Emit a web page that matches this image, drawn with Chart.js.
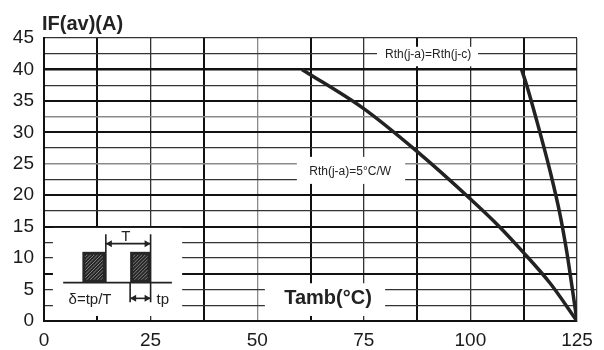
<!DOCTYPE html>
<html>
<head>
<meta charset="utf-8">
<script src="https://cdn.jsdelivr.net/npm/chart.js@4/dist/chart.umd.min.js"></script>
<style>
  body { margin: 0; background: #fff; }
  #wrap { width: 604px; height: 350px; }
</style>
</head>
<body>
<div id="wrap"><canvas id="derating"></canvas></div>
<script>
// curve: Rth(j-a)=Rth(j-c)
var tambCase = [112, 113.2, 115.5, 118.7, 121, 122.6, 123.8, 125];
var ifCase = [40, 37.5, 32.0, 23.8, 17.0, 11.0, 5.6, 0];
// curve for Rth(j-a)=5 C/W
var tambAmb = [60.5, 74.9, 87.4, 100, 106.8, 112.3, 118.7, 125];
var ifAmb = [40, 33.8, 27.0, 19.4, 15, 11, 6, 0];

var xTicks = [0, 25, 50, 75, 100, 125];
var yTicks = [0, 5, 10, 15, 20, 25, 30, 35, 40, 45];

var FONT = "'Liberation Sans', Arial, sans-serif";

function toPoints(xs, ys) {
  var pts = [];
  for (let i = 0; i < xs.length; i++) pts.push({ x: xs[i], y: ys[i] });
  return pts;
}

// grid styling per line
function xGridWidth(ctx) {
  var v = ctx.tick ? ctx.tick.value : 0;
  return (v % 25 === 0) ? 1.3 : 2;
}
function xGridColor(ctx) {
  var v = ctx.tick ? ctx.tick.value : 0;
  if (v === 50) return "#8a8a8a";
  return (v % 25 === 0) ? "#333" : "#111";
}
var thickY = [40, 35, 30, 20, 15, 7.5];
var greyY = [32.5, 25];
function yGridWidth(ctx) {
  var v = ctx.tick ? ctx.tick.value : 0;
  if (v === 40) return 2.4;
  if (thickY.indexOf(v) >= 0) return 2;
  if (greyY.indexOf(v) >= 0) return 1.5;
  return 1.3;
}
function yGridColor(ctx) {
  var v = ctx.tick ? ctx.tick.value : 0;
  if (greyY.indexOf(v) >= 0) return "#8a8a8a";
  return thickY.indexOf(v) >= 0 ? "#111" : "#333";
}

// white label boxes, in axis units: [x1, x2, y1, y2]
var boxes = [
  [78.1, 101.8, 40.5, 43.6],
  [59.3, 84.7, 21.8, 26.1],
  [51.8, 80, 0.8, 6.0],
  [2.1, 32.4, 0.8, 14.8]
];

var labelsPlugin = {
  id: "labels",
  beforeDatasetsDraw(chart) {
    var c = chart.ctx;
    var sx = chart.scales.x, sy = chart.scales.y;
    var X = v => sx.getPixelForValue(v);
    var Y = v => sy.getPixelForValue(v);
    c.save();
    c.fillStyle = "#fff";
    boxes.forEach(b => {
      c.fillRect(X(b[0]), Y(b[3]), X(b[1]) - X(b[0]), Y(b[2]) - Y(b[3]));
    });

    c.fillStyle = "#222";
    c.textBaseline = "middle";
    c.textAlign = "center";
    c.font = "12px " + FONT;
    c.fillText("Rth(j-a)=Rth(j-c)", X(90.1), Y(42.4));
    c.fillText("Rth(j-a)=5\u00B0C/W", X(71.8), Y(23.7));
    c.font = "bold 20px " + FONT;
    c.fillText("Tamb(\u00B0C)", X(66.6), Y(3.6));

    // duty cycle sketch
    c.strokeStyle = "#222";
    c.lineWidth = 1.6;
    c.beginPath();
    c.moveTo(X(4.5), Y(6.1));
    c.lineTo(X(30), Y(6.1));
    c.stroke();
    [[9.0, 14.5], [20.2, 25.0]].forEach(p => {
      var x1 = X(p[0]), x2 = X(p[1]), y1 = Y(11), y2 = Y(6.1);
      c.fillStyle = "#262626";
      c.fillRect(x1, y1, x2 - x1, y2 - y1);
      c.save();
      c.beginPath();
      c.rect(x1 + 3, y1 + 3, x2 - x1 - 6, y2 - y1 - 6);
      c.clip();
      c.strokeStyle = "#9a9a9a";
      c.lineWidth = 0.8;
      for (let k = -30; k < 40; k += 3.5) {
        c.beginPath();
        c.moveTo(x1 + k, y2);
        c.lineTo(x1 + k + 30, y2 - 30);
        c.stroke();
      }
      c.restore();
    });
    c.strokeStyle = "#222";
    c.lineWidth = 1.6;
    c.beginPath();
    c.moveTo(X(14.5), Y(13.8)); c.lineTo(X(14.5), Y(6.1));
    c.moveTo(X(25.0), Y(13.8)); c.lineTo(X(25.0), Y(3.0));
    c.moveTo(X(20.2), Y(6.1)); c.lineTo(X(20.2), Y(3.0));
    c.stroke();
    arrow(c, X(14.5), X(25.0), Y(12.3));
    arrow(c, X(20.2), X(25.0), Y(3.6));

    c.fillStyle = "#222";
    c.font = "15px " + FONT;
    c.fillText("T", X(19.2), Y(13.4));
    c.fillText("\u03B4=tp/T", X(10.8), Y(3.3));
    c.textAlign = "left";
    c.fillText("tp", X(26.4), Y(3.3));
    c.restore();
  },
  afterDraw(chart) {
    var c = chart.ctx;
    c.save();
    c.fillStyle = "#222";
    c.font = "bold 20px " + FONT;
    c.textAlign = "left";
    c.textBaseline = "middle";
    c.fillText("IF(av)(A)", chart.chartArea.left - 2, chart.chartArea.top - 14);
    c.restore();
  }
};

// double headed horizontal arrow
function arrow(c, x1, x2, y) {
  c.beginPath();
  c.moveTo(x1, y); c.lineTo(x2, y);
  c.stroke();
  c.beginPath();
  c.moveTo(x1, y); c.lineTo(x1 + 6, y - 3.5); c.lineTo(x1 + 6, y + 3.5); c.closePath();
  c.moveTo(x2, y); c.lineTo(x2 - 6, y - 3.5); c.lineTo(x2 - 6, y + 3.5); c.closePath();
  c.fillStyle = "#222";
  c.fill();
}

var curveStyle = {
  borderColor: "#222",
  borderWidth: 3.5,
  pointRadius: 0,
  cubicInterpolationMode: "monotone",
  borderJoinStyle: "round",
  fill: false
};

new Chart(document.getElementById("derating"), {
  type: "line",
  data: {
    datasets: [
      Object.assign({ label: "Rth(j-a)=Rth(j-c)", data: toPoints(tambCase, ifCase) }, curveStyle),
      Object.assign({ label: "Rth(j-a)=5\u00B0C/W", data: toPoints(tambAmb, ifAmb) }, curveStyle)
    ]
  },
  options: {
    responsive: true,
    maintainAspectRatio: false,
    animation: false,
    layout: { padding: { top: 38, right: 27, left: 0, bottom: 0 } },
    plugins: { legend: { display: false }, tooltip: { enabled: false } },
    scales: {
      x: {
        type: "linear",
        min: 0,
        max: 125,
        afterFit: s => { s.height = 29; },
        afterBuildTicks: s => {
          var t = [];
          for (let v = 0; v <= 125; v += 12.5) t.push({ value: v });
          s.ticks = t;
        },
        ticks: {
          padding: 8,
          color: "#1a1a1a",
          font: { family: FONT, size: 19 },
          maxRotation: 0,
          autoSkip: false,
          callback: v => (xTicks.indexOf(v) >= 0 ? String(v) : "")
        },
        grid: { drawTicks: false, lineWidth: xGridWidth, color: xGridColor },
        border: { color: "#111", width: 2 }
      },
      y: {
        min: 0,
        max: 45,
        afterFit: s => { s.width = 44; },
        afterBuildTicks: s => {
          var t = [];
          for (let v = 0; v <= 45; v += 2.5) t.push({ value: v });
          s.ticks = t;
        },
        ticks: {
          padding: 10,
          color: "#1a1a1a",
          font: { family: FONT, size: 19 },
          autoSkip: false,
          callback: v => (yTicks.indexOf(v) >= 0 ? String(v) : "")
        },
        grid: { drawTicks: false, lineWidth: yGridWidth, color: yGridColor },
        border: { color: "#111", width: 2 }
      }
    }
  },
  plugins: [labelsPlugin]
});
</script>
</body>
</html>
